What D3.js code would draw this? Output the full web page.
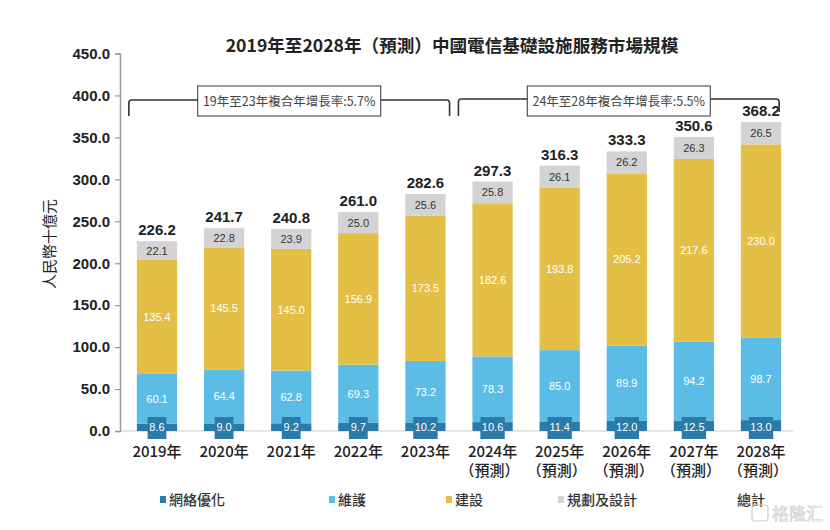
<!DOCTYPE html>
<html><head><meta charset="utf-8">
<script src="https://cdn.jsdelivr.net/npm/d3@7/dist/d3.min.js"></script>
<style>
body{margin:0;background:#fff;}
svg{display:block;}
text{font-family:"Liberation Sans","Noto Sans CJK TC",sans-serif;}
.cjk{font-family:"Noto Sans CJK TC","Liberation Sans",sans-serif;}
</style></head>
<body>
<svg id="c" width="830" height="530"></svg>
<script>
const years = ["2019","2020","2021","2022","2023","2024","2025","2026","2027","2028"];
const forecast = [false,false,false,false,false,true,true,true,true,true];
const netOpt = [8.6,9.0,9.2,9.7,10.2,10.6,11.4,12.0,12.5,13.0];
const maintenance = [60.1,64.4,62.8,69.3,73.2,78.3,85.0,89.9,94.2,98.7];
const construction = [135.4,145.5,145.0,156.9,173.5,182.6,193.8,205.2,217.6,230.0];
const planning = [22.1,22.8,23.9,25.0,25.6,25.8,26.1,26.2,26.3,26.5];
const totals = [226.2,241.7,240.8,261.0,282.6,297.3,316.3,333.3,350.6,368.2];
const yTicks = [0,50,100,150,200,250,300,350,400,450];
const seriesNames = ["網絡優化","維護","建設","規劃及設計"];
const seriesColors = ["#2b7aa8","#5bbce5","#e3bf45","#d3d3d5"];
const title = "2019年至2028年（預測）中國電信基礎設施服務市場規模";
const yTitle = "人民幣十億元";
const cagr1 = "19年至23年複合年增長率:5.7%";
const cagr2 = "24年至28年複合年增長率:5.5%";

const svg = d3.select("#c");
const x = d3.scaleBand().domain(years).range([110,808]).padding(0.4);
const y = d3.scaleLinear().domain([0,450]).range([431,53.5]);
const bw = x.bandwidth();

// title
svg.append("text").attr("class","cjk").attr("x",452).attr("y",52).attr("text-anchor","middle")
  .attr("font-size",17.6).attr("font-weight","bold").attr("fill","#222").text(title);

// y title
svg.append("text").attr("class","cjk").attr("transform","translate(55,244) rotate(-90)")
  .attr("text-anchor","middle").attr("font-size",15).attr("fill","#222").text(yTitle);

// baseline
svg.append("line").attr("x1",120).attr("x2",793).attr("y1",y(0)).attr("y2",y(0))
  .attr("stroke","#dedede").attr("stroke-width",1.5);

// y axis
const yAxis = svg.append("g").attr("transform","translate(120,0)")
  .call(d3.axisLeft(y).tickValues(yTicks).tickSize(5).tickPadding(5).tickFormat(d3.format(".1f")));
yAxis.select(".domain").attr("stroke","#9a9a9a").attr("stroke-width",1.5);
yAxis.selectAll(".tick line").attr("stroke","#9a9a9a").attr("stroke-width",1.2);
yAxis.selectAll(".tick text").attr("font-size",15).attr("font-weight","bold").attr("fill","#222")
  .attr("font-family","Liberation Sans, sans-serif");

// stacked data
const rows = years.map((yr,i)=>({year:yr, v:[netOpt[i],maintenance[i],construction[i],planning[i]]}));
const barG = svg.append("g");
rows.forEach((r,i)=>{
  let base = 0;
  r.v.forEach((val,k)=>{
    const y0 = y(base), y1 = y(base+val);
    barG.append("rect").attr("x",x(r.year)).attr("width",bw)
      .attr("y",y1).attr("height",y0-y1).attr("fill",seriesColors[k]);
    base += val;
  });
});

// segment labels
const labG = svg.append("g");
rows.forEach((r,i)=>{
  let base = 0;
  const cx = x(r.year)+bw/2;
  r.v.forEach((val,k)=>{
    const mid = (y(base)+y(base+val))/2;
    if(k===0){
      const txt = d3.format(".1f")(val);
      const w = txt.length*5.6+2;
      labG.append("rect").attr("x",cx-w/2).attr("y",y(0)-14).attr("width",w).attr("height",22)
        .attr("fill",seriesColors[0]);
      labG.append("text").attr("x",cx).attr("y",y(0)-0.5).attr("text-anchor","middle")
        .attr("font-size",11).attr("fill","#fff").text(txt);
    } else {
      labG.append("text").attr("x",cx).attr("y",mid+4).attr("text-anchor","middle")
        .attr("font-size",11).attr("fill",k===3?"#333":"#fff").text(d3.format(".1f")(val));
    }
    base += val;
  });
  // total
  svg.append("text").attr("x",cx).attr("y",y(totals[i])-6).attr("text-anchor","middle")
    .attr("font-size",15).attr("font-weight","bold").attr("fill","#222").text(d3.format(".1f")(totals[i]));
  // x labels
  svg.append("text").attr("class","cjk").attr("x",cx).attr("y",457).attr("text-anchor","middle")
    .attr("font-size",15).attr("font-weight",500).attr("fill","#222").text(r.year+"年");
  if(forecast[i]){
    svg.append("text").attr("class","cjk").attr("x",cx-3).attr("y",476).attr("text-anchor","middle")
      .attr("font-size",15).attr("font-weight",500).attr("fill","#222").text("（預測）");
  }
});

// brackets
function bracket(x1,x2,yl,yb1,yb2,label){
  const r=3;
  svg.append("path").attr("fill","none").attr("stroke","#333").attr("stroke-width",1.6)
    .attr("d",`M${x1},${yb1} V${yl+r} Q${x1},${yl} ${x1+r},${yl} H${x2-r} Q${x2},${yl} ${x2},${yl+r} V${yb2}`);
  const cx=(x1+x2)/2, w=183;
  svg.append("rect").attr("x",cx-w/2).attr("y",86).attr("width",w).attr("height",30)
    .attr("fill","#fff").attr("stroke","#333").attr("stroke-width",1);
  svg.append("text").attr("class","cjk").attr("x",cx).attr("y",105.5).attr("text-anchor","middle")
    .attr("font-size",12.5).attr("fill","#444").text(label);
}
bracket(x("2019")-8, x("2023")+bw+4, 100, 116, 116, cagr1);
bracket(x("2024")-14, x("2028")+bw-2, 99, 116, 112, cagr2);

// legend
const legX = [160,329,446,558,728];
const legNames = seriesNames.concat(["總計"]);
const legColors = seriesColors.concat(["#fff"]);
legNames.forEach((n,i)=>{
  svg.append("rect").attr("x",legX[i]).attr("y",496).attr("width",6).attr("height",7).attr("fill",legColors[i]);
  svg.append("text").attr("class","cjk").attr("x",legX[i]+9).attr("y",505).attr("font-size",14)
    .attr("font-weight",500).attr("fill","#333").text(n);
});

// watermark
svg.append("text").attr("class","cjk").attr("x",772).attr("y",520).attr("font-size",17)
  .attr("fill","#f2f2f2").attr("stroke","#cfcfcf").attr("stroke-width",0.6).text("格隆汇");
svg.append("rect").attr("x",752).attr("y",505).attr("width",16).attr("height",16).attr("rx",3)
  .attr("fill","none").attr("stroke","#cfcfcf").attr("stroke-width",1.2);
</script>
</body></html>
